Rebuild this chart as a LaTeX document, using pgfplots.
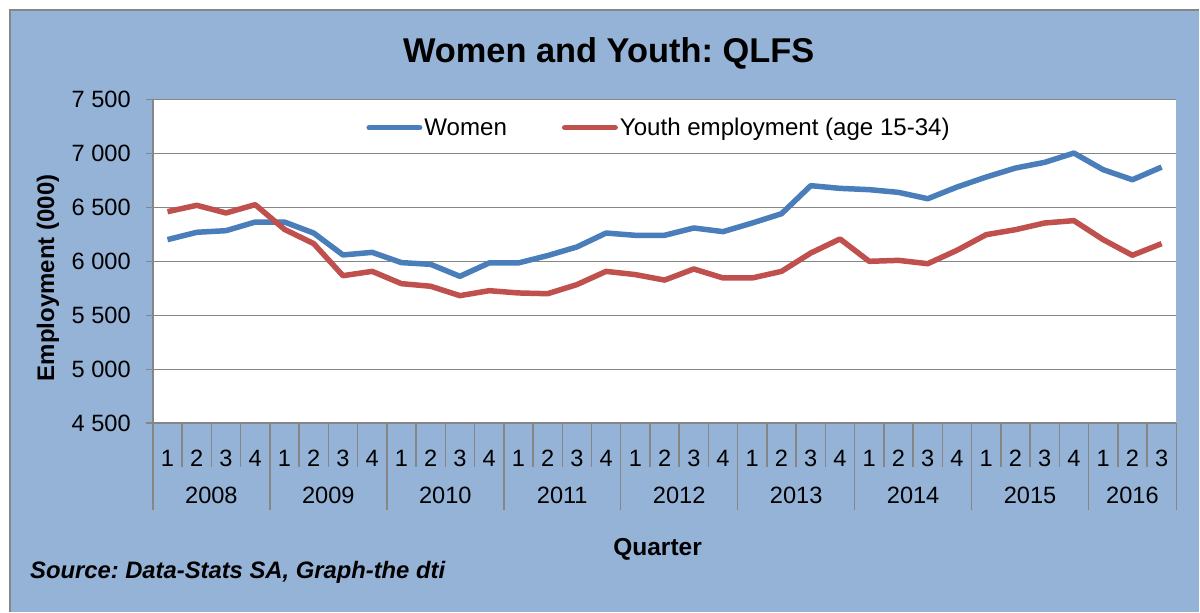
\documentclass[border=0pt]{standalone}
\usepackage{pgfplots}
\pgfplotsset{compat=1.18}
\usepackage{pgfplotstable}
\usepackage{fontspec}
\setmainfont{Liberation Sans}
\frenchspacing
\definecolor{bgblue}{RGB}{149,179,215}
\definecolor{gridgray}{RGB}{134,134,134}
\definecolor{wblue}{RGB}{74,126,187}
\definecolor{yred}{RGB}{192,80,77}
\newcommand\tickfont{\fontsize{23.6bp}{28bp}\selectfont}
\newcommand\legfont{\fontsize{24.1bp}{28bp}\selectfont}
\pgfplotstableread{
x women youth
0 6201 6460
1 6269 6519
2 6284 6448
3 6364 6525
4 6364 6296
5 6262 6164
6 6059 5867
7 6083 5907
8 5988 5793
9 5972 5769
10 5861 5682
11 5985 5728
12 5985 5707
13 6053 5700
14 6133 5784
15 6262 5907
16 6241 5877
17 6241 5826
18 6309 5929
19 6275 5846
20 6355 5846
21 6441 5907
22 6701 6077
23 6676 6207
24 6664 6000
25 6639 6009
26 6580 5978
27 6688 6102
28 6781 6247
29 6864 6293
30 6917 6355
31 7003 6377
32 6849 6201
33 6756 6056
34 6873 6164
}\datatable
\begin{document}
\begin{tikzpicture}[x=1bp,y=1bp]
\fill[white] (0,0) rectangle (1200,612);
\fill[bgblue] (10,0) rectangle (1200,602);
\draw[gridgray, line width=1.5bp] (10,0) -- (10,602) -- (1200,602);
\path[use as bounding box] (0,0) rectangle (1200,612);
\begin{axis}[
  at={(153bp,188.5bp)}, anchor=south west,
  scale only axis, width=1024bp, height=324bp,
  xmin=-0.5, xmax=34.5, ymin=4500, ymax=7500,
  axis background/.style={fill=white},
  axis lines*=left,
  axis line style={gridgray, line width=1.5bp},
  xtick={0,...,34},
  xticklabels={1,2,3,4,1,2,3,4,1,2,3,4,1,2,3,4,1,2,3,4,1,2,3,4,1,2,3,4,1,2,3,4,1,2,3},
  x tick style={draw=none},
  xticklabel style={anchor=center, inner sep=0pt, yshift=-28.5bp, font=\tickfont},
  ytick={4500,5000,5500,6000,6500,7000,7500},
  yticklabels={4 500,5 000,5 500,6 000,6 500,7 000,7 500},
  ytick pos=left,
  tick align=outside,
  major tick length=7bp,
  y tick style={gridgray, line width=1.5bp},
  yticklabel style={anchor=east, inner sep=0pt, xshift=-15bp, font=\tickfont},
  ymajorgrids,
  major grid style={gridgray, line width=1.5bp},
  clip=false,
  legend columns=2,
  legend style={at={(0.2085,0.913)}, anchor=west, draw=none, fill=none,
    inner sep=0pt, font=\legfont,
    nodes={inner sep=2bp},
    /tikz/every even column/.append style={column sep=53bp}},
  legend image code/.code={\draw[#1, line cap=round] (0bp,0bp) -- (50.5bp,0bp);},
]
\addplot[wblue, line width=5.5bp, line join=round] table[x=x, y=women] {\datatable};
\addlegendentry{Women}
\addplot[yred, line width=5.5bp, line join=round] table[x=x, y=youth] {\datatable};
\addlegendentry{Youth employment (age 15-34)}
\end{axis}
\foreach \k in {0,...,35} \draw[gridgray, line width=1.5bp] ({153+\k*29.2571},188.5) -- ++(0,-43.5);
\foreach \k in {0,4,8,12,16,20,24,28,32,35} \draw[gridgray, line width=1.5bp] ({153+\k*29.2571},188.5) -- ++(0,-86.5);
\foreach \c/\yr in {2/2008,6/2009,10/2010,14/2011,18/2012,22/2013,26/2014,30/2015,33.5/2016}
  \node[font=\tickfont, inner sep=0pt] at ({153+\c*29.2571},116) {\yr};
\node[anchor=base, inner sep=0pt, font=\bfseries\fontsize{34.4bp}{40bp}\selectfont] at (609,549.3) {Women and Youth: QLFS};
\node[rotate=90, inner sep=0pt, font=\bfseries\fontsize{24bp}{28bp}\selectfont] at (48,334) {Employment (000)};
\node[inner sep=0pt, font=\bfseries\fontsize{24.5bp}{28bp}\selectfont] at (658,62) {Quarter};
\node[anchor=west, inner sep=0pt, font=\bfseries\itshape\fontsize{23.8bp}{28bp}\selectfont] at (30,39) {Source: Data-Stats SA, Graph-the dti};
\end{tikzpicture}
\end{document}
